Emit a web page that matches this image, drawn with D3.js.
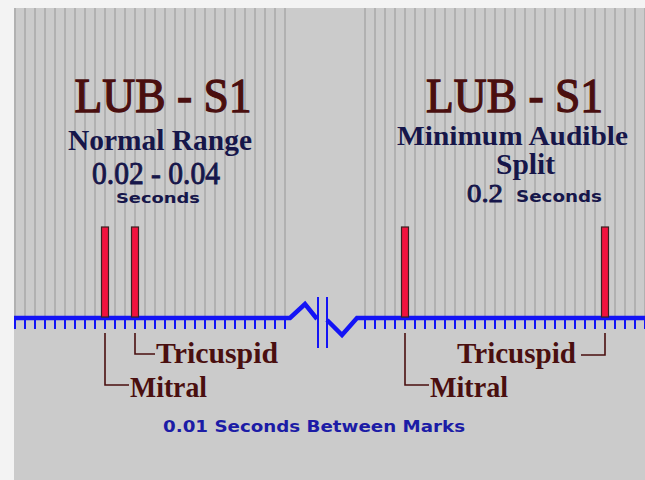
<!DOCTYPE html>
<html><head><meta charset="utf-8">
<script src="https://cdn.jsdelivr.net/npm/d3@7"></script>
<style>html,body{margin:0;padding:0;background:#f3f3f3;}svg{display:block;}</style>
</head><body>
<svg id="c" width="645" height="480"></svg>
<script>
// ---- data (seconds) ----
const leftTicks = d3.range(0, 0.2705, 0.01);
const rightTicks = d3.range(0.35, 0.6305, 0.01);
const valves = ["Mitral", "Tricuspid"];
const normalSplit = [0.09, 0.12];      // 0.03 s apart (normal 0.02-0.04)
const audibleSplit = [0.39, 0.59];     // 0.2 s apart
const amplitude = [1, 1];
const titles = ["LUB - S1", "LUB - S1"];
const leftSub = ["Normal Range", "0.02 - 0.04", "Seconds"];
const rightSub = ["Minimum Audible", "Split", "0.2", "Seconds"];
const footer = "0.01 Seconds Between Marks";
const breakStart = 0.275, breakEnd = 0.342;

const svg = d3.select("#c");
const x = d3.scaleLinear().domain([0, 0.63]).range([15, 645]);
const y = d3.scaleLinear().domain([0, 1]).range([318, 227]);
const axisY = y(0);

// panel
svg.append("rect").attr("x", 14).attr("y", 8).attr("width", 631).attr("height", 472).attr("fill", "#cbcbcb");

// grid lines
const g = svg.append("g");
g.selectAll("line.gl").data(leftTicks.concat(rightTicks)).join("line")
  .attr("x1", d => x(d)).attr("x2", d => x(d)).attr("y1", 8).attr("y2", axisY)
  .attr("stroke", "#aaaaaa").attr("stroke-width", 1.6);

// axis baseline with break
const blue = "#1414f5";
const lineL = d3.line()([[14, axisY], [x(breakStart), axisY], [x(0.29), 304], [x(0.302), 319]]);
const lineR = d3.line()([[x(0.312), 320], [x(0.327), 335], [x(breakEnd), axisY], [645, axisY]]);
svg.append("path").attr("d", lineL).attr("fill", "none").attr("stroke", blue).attr("stroke-width", 4.5).attr("stroke-linejoin", "miter");
svg.append("path").attr("d", lineR).attr("fill", "none").attr("stroke", blue).attr("stroke-width", 4.5).attr("stroke-linejoin", "miter");
[0.303, 0.312].forEach(t => svg.append("line").attr("x1", x(t)).attr("x2", x(t)).attr("y1", 297).attr("y2", 348).attr("stroke", blue).attr("stroke-width", 2));

// ticks
svg.selectAll("line.tk").data(leftTicks.concat(rightTicks)).join("line")
  .attr("x1", d => x(d)).attr("x2", d => x(d)).attr("y1", axisY).attr("y2", axisY + 11)
  .attr("stroke", blue).attr("stroke-width", 2);

// bars
const bars = normalSplit.map((t, i) => ({t, a: amplitude[i]})).concat(audibleSplit.map((t, i) => ({t, a: amplitude[i]})));
svg.selectAll("rect.bar").data(bars).join("rect")
  .attr("x", d => x(d.t) - 3.5).attr("width", 7)
  .attr("y", d => y(d.a)).attr("height", d => y(0) - y(d.a) - 1)
  .attr("fill", "#f2123e").attr("stroke", "#3a2020").attr("stroke-width", 1.2);

// titles
const maroon = "#4a0f0f", navy = "#16164a";
function txt(s, cx, by, size, color, family, weight, len, thick) {
  const t = svg.append("text").attr("x", cx).attr("y", by).attr("text-anchor", "middle")
    .attr("font-family", family).attr("font-size", size).attr("font-weight", weight).attr("fill", color).text(s);
  if (len) t.attr("textLength", len).attr("lengthAdjust", "spacingAndGlyphs");
  if (thick) t.attr("stroke", color).attr("stroke-width", thick);
  return t;
}
const serif = "'Liberation Serif', 'Times New Roman', serif";
const sans = "'DejaVu Sans', sans-serif";
txt(titles[0], 163, 112, 49, maroon, serif, "normal", 177, 1.3);
txt(titles[1], 514.5, 112, 49, maroon, serif, "normal", 177, 1.3);
txt(leftSub[0], 160, 150, 29, navy, serif, "bold", 184);
txt(leftSub[1], 156, 184, 32, navy, serif, "normal", 128, 0.9);
txt(leftSub[2], 158, 203, 14, navy, sans, "bold", 84);
txt(rightSub[0], 512.5, 145, 28, navy, serif, "bold", 231);
txt(rightSub[1], 525.5, 174, 29, navy, serif, "bold", 59);
txt(rightSub[2], 485, 202, 26, navy, serif, "normal", 36, 0.9);
txt(rightSub[3], 559, 202, 16, navy, sans, "bold", 86);

// valve labels with connectors
const lab = svg.append("g");
function connector(pts) {
  lab.append("path").attr("d", d3.line()(pts)).attr("fill", "none").attr("stroke", maroon).attr("stroke-width", 1.6);
}
const lx = normalSplit.map(x), rx = audibleSplit.map(x);
connector([[lx[0], 333], [lx[0], 385], [lx[0] + 24, 385]]);
connector([[lx[1], 333], [lx[1], 354], [lx[1] + 20, 354]]);
connector([[rx[0], 333], [rx[0], 385], [rx[0] + 24, 385]]);
connector([[rx[1], 333], [rx[1], 355], [rx[1] - 24, 355]]);
function vlabel(s, x0, by, len) {
  lab.append("text").attr("x", x0).attr("y", by).attr("font-family", serif).attr("font-size", 30)
    .attr("font-weight", "bold").attr("fill", maroon).attr("textLength", len).attr("lengthAdjust", "spacingAndGlyphs").text(s);
}
vlabel(valves[0], lx[0] + 25, 397, 77);
vlabel(valves[1], lx[1] + 21, 363, 122);
vlabel(valves[0], rx[0] + 25, 397, 78);
vlabel(valves[1], rx[1] - 148, 363, 119);

// footer
svg.append("text").attr("x", 163).attr("y", 432).attr("font-family", sans).attr("font-size", 16)
  .attr("font-weight", "bold").attr("fill", "#1c1ca6").attr("textLength", 302).attr("lengthAdjust", "spacingAndGlyphs").text(footer);
</script>
</body></html>
